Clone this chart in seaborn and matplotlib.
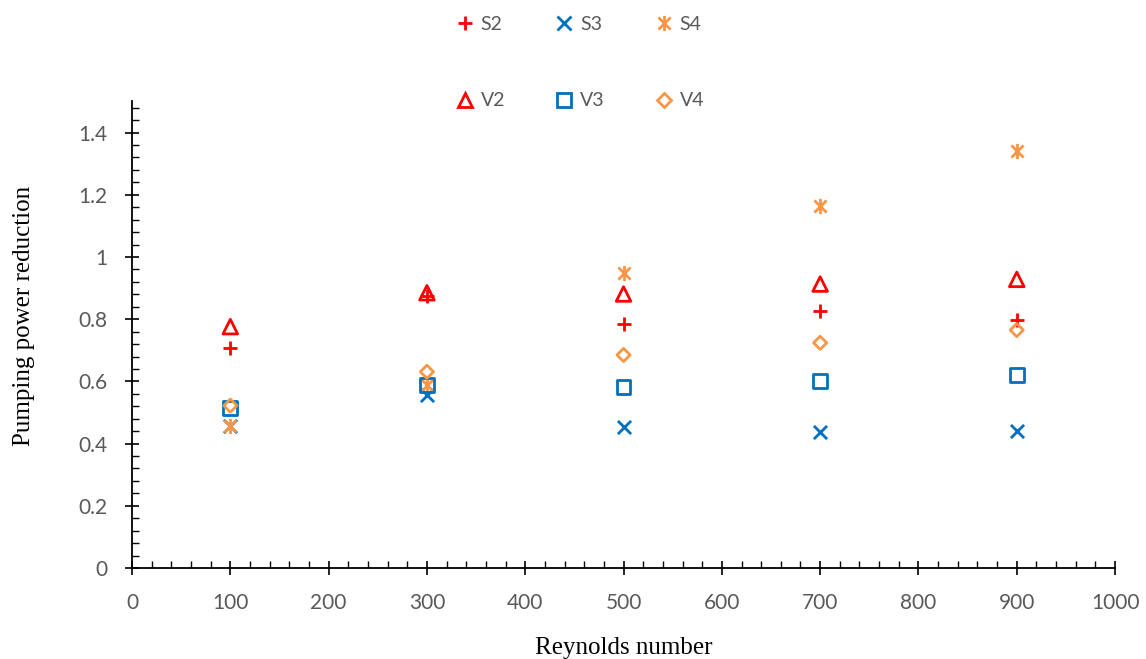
import matplotlib
matplotlib.use("Agg")
import matplotlib.pyplot as plt
import seaborn as sns
import pandas as pd
from matplotlib.path import Path
from matplotlib.ticker import MultipleLocator
from matplotlib.lines import Line2D

reynolds = [100, 300, 500, 700, 900]
S2 = [0.708, 0.876, 0.785, 0.827, 0.797]
S3 = [0.455, 0.556, 0.452, 0.436, 0.441]
S4 = [0.455, 0.588, 0.948, 1.164, 1.341]
V2 = [0.776, 0.885, 0.881, 0.913, 0.928]
V3 = [0.515, 0.588, 0.583, 0.601, 0.621]
V4 = [0.522, 0.631, 0.685, 0.724, 0.765]

sns.set_theme(style="white")
plt.rcParams['font.family'] = ['Lato', 'DejaVu Sans']

asterisk = Path([(0, -1), (0, 1), (-0.8, -0.8), (0.8, 0.8), (-0.8, 0.8), (0.8, -0.8)],
                [Path.MOVETO, Path.LINETO, Path.MOVETO, Path.LINETO, Path.MOVETO, Path.LINETO])

red, blue, orange = "#FF0000", "#0070C0", "#F79646"
series = [
    ("S2", S2, "+", red, False, 110),
    ("S3", S3, "x", blue, False, 90),
    ("S4", S4, asterisk, orange, False, 120),
    ("V2", V2, "^", red, True, 110),
    ("V3", V3, "s", blue, True, 100),
    ("V4", V4, "D", orange, True, 45),
]

fig = plt.figure(figsize=(11.46, 6.59), dpi=100)
ax = fig.add_axes([0.1152, 0.1381, 0.8578, 0.7079])

handles = {}
for name, vals, m, c, filled, s in series:
    df = pd.DataFrame({"Re": reynolds, "val": vals})
    if filled:
        sns.scatterplot(data=df, x="Re", y="val", marker=m, s=s, facecolor="none",
                        edgecolor=c, linewidth=2.0, ax=ax, zorder=3)
        h = Line2D([], [], linestyle="", marker=m, markersize=s ** 0.5,
                   markerfacecolor="none", markeredgecolor=c, markeredgewidth=2.0)
    else:
        sns.scatterplot(data=df, x="Re", y="val", marker=m, s=s, color=c,
                        edgecolor=c, linewidth=2.0, ax=ax, zorder=3)
        h = Line2D([], [], linestyle="", marker=m, markersize=s ** 0.5,
                   color=c, markerfacecolor=c, markeredgecolor=c, markeredgewidth=2.0)
    handles[name] = h

ax.set_xlim(0, 1000)
ax.set_ylim(0, 1.5)
ax.xaxis.set_major_locator(MultipleLocator(100))
ax.xaxis.set_minor_locator(MultipleLocator(20))
ax.yaxis.set_minor_locator(MultipleLocator(0.04))
ax.set_yticks([0, 0.2, 0.4, 0.6, 0.8, 1.0, 1.2, 1.4])
ax.set_yticklabels(["0", "0.2", "0.4", "0.6", "0.8", "1", "1.2", "1.4"])

for sp in ["top", "right"]:
    ax.spines[sp].set_visible(False)
for sp in ["left", "bottom"]:
    ax.spines[sp].set_color("black")
    ax.spines[sp].set_linewidth(1.3)

ax.tick_params(axis="both", which="major", direction="inout", length=10, width=1.2,
               color="black", labelsize=15, labelcolor="#595959", pad=13,
               bottom=True, left=True)
ax.tick_params(axis="both", which="minor", direction="in", length=5, width=1.0,
               color="black", bottom=True, left=True)

ax.set_xlabel("Reynolds number", family="Liberation Serif", fontsize=18, color="black", labelpad=17)
ax.set_ylabel("Pumping power reduction", family="Liberation Serif", fontsize=18, color="black", labelpad=31)
ax.yaxis.label.set_y(0.54)

order = ["S2", "V2", "S3", "V3", "S4", "V4"]
leg = fig.legend([handles[k] for k in order], order, ncol=3, loc="upper center",
                 bbox_to_anchor=(0.505, 1.002), frameon=False, fontsize=14,
                 labelspacing=3.05, columnspacing=2.45, handletextpad=0.2, handlelength=1.2)
for t in leg.get_texts():
    t.set_color("#595959")

fig.savefig("out.png", dpi=100)
